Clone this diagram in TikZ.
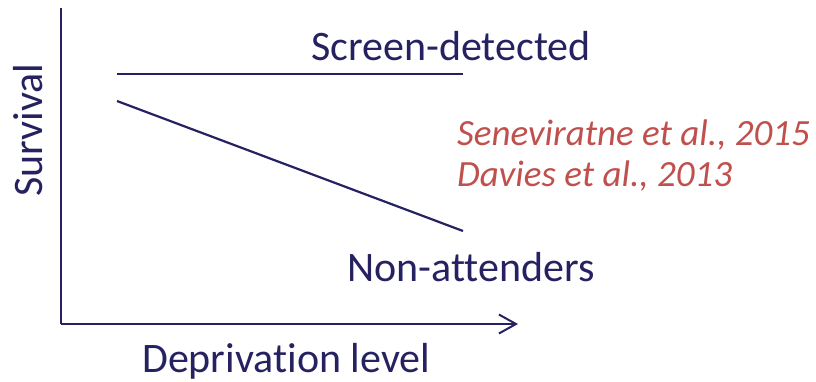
\documentclass[tikz,border=0pt]{standalone}
\usepackage{fontspec}
\setmainfont{Carlito}[Ligatures={NoCommon}]
\usetikzlibrary{arrows.meta}
\definecolor{navy}{HTML}{262262}
\definecolor{cite}{HTML}{C0504D}
\begin{document}
\begin{tikzpicture}[x=1pt,y=-1pt,
  axisline/.style={draw=navy,line width=2pt},
  trend/.style={draw=navy,line width=2.2pt},
  label/.style={inner sep=0pt,text=navy,font=\fontsize{42}{50}\selectfont},
  citation/.style={inner sep=0pt,text=cite,font=\fontsize{37}{44}\selectfont\itshape}]
\useasboundingbox[fill=white] (0,0) rectangle (816,381);
% axes
\coordinate (ytop) at (61,8);
\coordinate (origin) at (61,324);
\coordinate (xend) at (518,324);
\draw[axisline] (ytop) -- (origin);
\draw[axisline,-{Straight Barb[length=17pt,width=19pt,line width=2pt]}] (origin) -- (xend);
% trends
\coordinate (s1) at (117,74);
\coordinate (s2) at (463,74);
\coordinate (n1) at (117,101);
\coordinate (n2) at (463,231);
\draw[trend] (s1) -- (s2);
\draw[trend] (n1) -- (n2);
% labels
\node[label,anchor=base west] (screen) at (311,60) {Screen-detected};
\node[label,anchor=base west] (nonatt) at (347,281) {Non-attenders};
\node[label,anchor=base west] (xlab) at (142,372) {Deprivation level};
\node[label,anchor=base west,rotate=90] (ylab) at (42,197) {Survival};
\node[citation,anchor=base west] (cite1) at (457,145) {Seneviratne et al., 2015};
\node[citation,anchor=base west] (cite2) at (457,186) {Davies et al., 2013};
\end{tikzpicture}
\end{document}
